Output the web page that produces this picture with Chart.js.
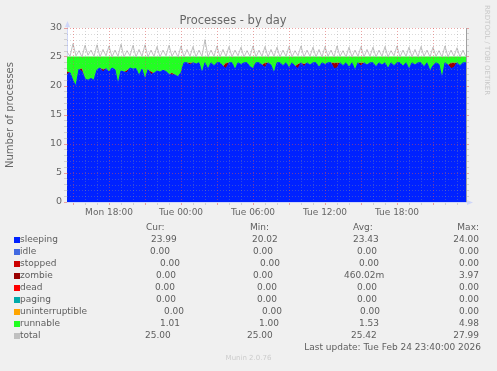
<!DOCTYPE html>
<html>
<head>
<meta charset="utf-8">
<script src="https://cdn.jsdelivr.net/npm/chart.js@4"></script>
<style>
  body { margin: 0; background: #f0f0f0; font-family: "DejaVu Sans", sans-serif; }
  #wrap { position: relative; width: 497px; height: 371px; overflow: hidden; }
  #chart { position: absolute; left: 0; top: 0; }
  .t { position: absolute; font-size: 9px; line-height: 11px; color: #5e5e5e; white-space: pre; }
  .sw { position: absolute; width: 6px; height: 6px; }
  #credit { position: absolute; left: 483px; top: 5px; font-size: 7px; line-height: 8px; color: #c8c8c8; writing-mode: vertical-rl; }
  #version { position: absolute; left: 0; width: 497px; top: 353px; text-align: center; font-size: 7px; line-height: 10px; color: #cccccc; }
</style>
</head>
<body>
<div id="wrap">
  <canvas id="chart" width="497" height="371"></canvas>
  <div id="credit">RRDTOOL / TOBI OETIKER</div>
  <div id="legend"></div>
  <div id="version">Munin 2.0.76</div>
</div>
<script>
// samples every 15 minutes, first one Mon 14:30 (hours counted from Mon 00:00)
const startHour = 14.5;
const stepHours = 0.25;

const sleeping = [
  22.0, 22.3, 20.9, 20.02, 22.9, 22.5, 21.2, 21.0, 21.3, 21.0,
  22.8, 23.1, 22.4, 23.0, 22.4, 23.1, 22.8, 20.3, 22.6, 22.4,
  22.3, 23.1, 22.9, 23.0, 21.8, 22.9, 21.1, 22.8, 22.0, 22.2,
  22.6, 22.4, 22.7, 22.5, 22.0, 21.9, 21.9, 21.6, 22.3, 24.0,
  24.0, 23.6, 24.0, 23.8, 24.0, 22.2, 24.0, 22.9, 24.0, 23.5,
  24.0, 24.0, 23.4, 23.0, 24.0, 24.0, 22.8, 24.0, 23.7, 24.0,
  24.0, 23.3, 23.0, 24.0, 24.0, 23.6, 23.2, 24.0, 23.6, 22.2,
  24.0, 24.0, 23.5, 24.0, 23.1, 24.0, 23.4, 23.0, 24.0, 23.3,
  24.0, 23.6, 24.0, 24.0, 23.2, 24.0, 23.7, 24.0, 24.0, 23.0,
  23.1, 24.0, 23.5, 24.0, 23.2, 24.0, 22.7, 24.0, 23.4, 24.0,
  23.6, 24.0, 24.0, 23.3, 24.0, 23.6, 24.0, 23.0, 24.0, 23.5,
  24.0, 24.0, 23.4, 24.0, 22.9, 24.0, 23.6, 24.0, 24.0, 23.3,
  24.0, 22.6, 23.5, 24.0, 23.7, 21.3, 24.0, 23.6, 23.0, 23.2,
  24.0, 23.5, 24.0, 23.99
];

const zombie = [
  0.5, 0, 0, 0, 0, 0.5, 0, 0, 0, 0,
  0, 0, 0.5, 0, 0, 0, 0, 0, 0, 0,
  0.4, 0, 0, 0, 0, 0, 0, 0, 0.5, 0,
  0, 0, 0, 0, 0, 0.4, 0, 0, 0, 0,
  0, 0.4, 0, 0, 0, 0, 0, 0, 0, 0,
  0, 0, 0, 1.0, 0, 0, 0, 0, 0, 0,
  0, 0, 0, 0, 0, 0, 0.8, 0, 0, 0,
  0, 0, 0, 0, 0, 0, 0, 0.8, 0, 0.5,
  0, 0, 0, 0, 0, 0, 0, 0, 0, 1.0,
  0.9, 0, 0, 0, 0, 0, 0, 0, 0.6, 0,
  0, 0, 0, 0, 0, 0, 0, 0, 0, 0,
  0, 0, 0, 0, 0, 0, 0, 0, 0, 0,
  0, 0, 0, 0, 0, 0, 0, 0, 1.0, 0.8,
  0, 0, 0, 0
];

const runnable = [
  2.5, 2.7, 4.1, 4.98, 2.1, 2.0, 3.8, 4.0, 3.7, 4.0,
  2.2, 1.9, 2.1, 2.0, 2.6, 1.9, 2.2, 4.7, 2.4, 2.6,
  2.3, 1.9, 2.1, 2.0, 3.2, 2.1, 3.9, 2.2, 2.5, 2.8,
  2.4, 2.6, 2.3, 2.5, 3.0, 2.7, 3.1, 3.4, 2.7, 1.0,
  1.0, 1.0, 1.0, 1.2, 1.0, 2.8, 1.0, 2.1, 1.0, 1.5,
  1.0, 1.0, 1.6, 1.0, 1.0, 1.0, 2.2, 1.0, 1.3, 1.0,
  1.0, 1.7, 2.0, 1.0, 1.0, 1.4, 1.0, 1.0, 1.4, 2.8,
  1.0, 1.0, 1.5, 1.0, 1.9, 1.0, 1.6, 1.2, 1.0, 1.2,
  1.0, 1.4, 1.0, 1.0, 1.8, 1.0, 1.3, 1.0, 1.0, 1.0,
  1.0, 1.0, 1.5, 1.0, 1.8, 1.0, 2.3, 1.0, 1.0, 1.0,
  1.4, 1.0, 1.0, 1.7, 1.0, 1.4, 1.0, 2.0, 1.0, 1.5,
  1.0, 1.0, 1.6, 1.0, 2.1, 1.0, 1.4, 1.0, 1.0, 1.7,
  1.0, 2.4, 1.5, 1.0, 1.3, 3.7, 1.0, 1.4, 1.0, 1.0,
  1.0, 1.5, 1.0, 1.01
];

const total = [
  25.9, 25.1, 27.3, 25.2, 26.1, 25.0, 27.0, 25.3, 26.2, 25.1,
  27.1, 25.0, 26.3, 25.2, 26.9, 25.0, 26.2, 25.1, 27.2, 25.0,
  26.1, 25.2, 27.0, 25.0, 26.3, 25.1, 27.1, 25.0, 26.2, 25.1,
  26.8, 25.0, 26.2, 25.2, 27.0, 25.1, 26.1, 25.0, 26.9, 25.0,
  26.3, 25.1, 26.8, 25.0, 26.2, 25.1, 27.99, 25.0, 26.2, 25.1,
  26.9, 25.0, 26.3, 25.1, 26.8, 25.0, 26.2, 25.2, 26.7, 25.0,
  26.1, 25.1, 26.9, 25.0, 26.2, 25.1, 26.8, 25.0, 26.3, 25.1,
  26.7, 25.0, 26.2, 25.1, 26.8, 25.0, 26.1, 25.2, 26.9, 25.0,
  26.2, 25.1, 26.7, 25.0, 26.3, 25.0, 26.8, 25.1, 26.2, 25.0,
  26.9, 25.1, 26.1, 25.0, 26.7, 25.0, 26.2, 25.1, 26.8, 25.0,
  26.3, 25.1, 26.7, 25.0, 26.2, 25.1, 26.8, 25.0, 26.1, 25.2,
  26.9, 25.0, 26.2, 25.1, 26.7, 25.0, 26.3, 25.0, 26.8, 25.1,
  26.2, 25.0, 26.7, 25.1, 26.1, 25.0, 26.9, 25.0, 26.2, 25.1,
  26.6, 25.0, 26.2, 25.0
];

// legend table
const seriesNames = ["sleeping", "idle", "stopped", "zombie", "dead", "paging", "uninterruptible", "runnable", "total"];
const seriesColors = ["#0022ff", "#4169e1", "#cc0000", "#990000", "#ff0000", "#00aaaa", "#ffa500", "#22ff22", "#c0c0c0"];
const curValues = ["23.99", "0.00", "0.00", "0.00", "0.00", "0.00", "0.00", "1.01", "25.00"];
const minValues = ["20.02", "0.00", "0.00", "0.00", "0.00", "0.00", "0.00", "1.00", "25.00"];
const avgValues = ["23.43", "0.00", "0.00", "460.02m", "0.00", "0.00", "0.00", "1.53", "25.42"];
const maxValues = ["24.00", "0.00", "0.00", "3.97", "0.00", "0.00", "0.00", "4.98", "27.99"];
const lastUpdate = "Last update: Tue Feb 24 23:40:00 2026";

const dayNames = ["Mon", "Tue", "Wed"];

const points = (arr) => arr.map((v, i) => ({ x: startHour + i * stepHours, y: v }));

const fontColor = "#666666";
const axisColor = "#cfd6f8";
const majorGrid = "rgba(222, 80, 80, 0.5)";
const minorGrid = "rgba(150, 150, 150, 0.35)";

// background + white plot area
const backdrop = {
  id: "backdrop",
  beforeDraw(chart) {
    const { ctx, chartArea: a } = chart;
    ctx.save();
    ctx.fillStyle = "#f0f0f0";
    ctx.fillRect(0, 0, chart.width, chart.height);
    ctx.fillStyle = "#ffffff";
    ctx.fillRect(a.left, a.top, a.right - a.left, a.bottom - a.top);
    ctx.restore();
  },
};

// rrdtool draws its dotted grid on top of the areas
const gridOverlay = {
  id: "gridOverlay",
  afterDatasetsDraw(chart) {
    const { ctx, chartArea: a, scales } = chart;
    ctx.save();
    ctx.lineWidth = 1;
    ctx.setLineDash([1, 2]);
    scales.y.ticks.forEach((t) => {
      if (t.value === 0) return;
      const y = Math.round(scales.y.getPixelForValue(t.value)) + 0.5;
      ctx.strokeStyle = t.value % 5 === 0 ? majorGrid : minorGrid;
      ctx.beginPath();
      ctx.moveTo(a.left, y);
      ctx.lineTo(a.right, y);
      ctx.stroke();
    });
    scales.x.ticks.forEach((t) => {
      const x = Math.round(scales.x.getPixelForValue(t.value)) + 0.5;
      ctx.strokeStyle = t.value % 3 === 0 ? majorGrid : minorGrid;
      ctx.beginPath();
      ctx.moveTo(x, a.top);
      ctx.lineTo(x, a.bottom);
      ctx.stroke();
    });
    ctx.restore();
  },
};

// little arrow heads at the ends of the axes
const arrows = {
  id: "arrows",
  afterDraw(chart) {
    const { ctx, chartArea: a } = chart;
    const x = Math.round(a.left) + 0.5;
    const y = Math.round(a.bottom) + 0.5;
    ctx.save();
    ctx.strokeStyle = axisColor;
    ctx.fillStyle = axisColor;
    ctx.beginPath();
    ctx.moveTo(x, a.top);
    ctx.lineTo(x, a.top - 2);
    ctx.moveTo(a.right, y);
    ctx.lineTo(a.right + 2, y);
    ctx.stroke();
    ctx.beginPath();
    ctx.moveTo(x, a.top - 7);
    ctx.lineTo(x - 2.5, a.top - 1);
    ctx.lineTo(x + 2.5, a.top - 1);
    ctx.closePath();
    ctx.fill();
    ctx.beginPath();
    ctx.moveTo(a.right + 7, y);
    ctx.lineTo(a.right + 1, y - 2.5);
    ctx.lineTo(a.right + 1, y + 2.5);
    ctx.closePath();
    ctx.fill();
    ctx.restore();
  },
};

const tickFont = { family: "DejaVu Sans", size: 9 };

new Chart(document.getElementById("chart"), {
  type: "line",
  data: {
    datasets: [
      { label: "total", data: points(total), borderColor: "#c0c0c0", borderWidth: 1, fill: false, stack: "total", order: 0 },
      { label: "sleeping", data: points(sleeping), borderColor: "#0022ff", backgroundColor: "#0022ff", borderWidth: 1, fill: "origin", stack: "procs", order: 1 },
      { label: "zombie", data: points(zombie), borderColor: "rgba(0,0,0,0)", backgroundColor: "#990000", borderWidth: 1, fill: "-1", stack: "procs", order: 2 },
      { label: "runnable", data: points(runnable), borderColor: "#22ff22", backgroundColor: "#22ff22", borderWidth: 1, fill: "-1", stack: "procs", order: 3 },
    ],
  },
  options: {
    responsive: false,
    animation: false,
    devicePixelRatio: 1,
    layout: { padding: { left: 0, right: 31, top: 0, bottom: 149 } },
    elements: { point: { radius: 0 }, line: { tension: 0 } },
    plugins: {
      legend: { display: false },
      tooltip: { enabled: false },
      title: {
        display: true,
        text: "Processes - by day",
        color: fontColor,
        font: { family: "DejaVu Sans", size: 11.5, weight: "normal" },
        padding: { top: 14, bottom: 0.2 },
      },
    },
    scales: {
      x: {
        type: "linear",
        min: startHour,
        max: 47.75,
        afterFit: (s) => { s.height = 20; },
        ticks: {
          stepSize: 1,
          autoSkip: false,
          maxRotation: 0,
          includeBounds: false,
          padding: 2,
          color: fontColor,
          font: tickFont,
          callback: (v) => {
            if (v % 6 !== 0) return "";
            const hh = String(v % 24).padStart(2, "0");
            return dayNames[Math.floor(v / 24)] + " " + hh + ":00";
          },
        },
        grid: {
          drawOnChartArea: false,
          tickLength: 3,
          color: (c) => (c.tick && c.tick.value % 3 === 0 ? majorGrid : minorGrid),
        },
        border: { color: axisColor },
      },
      y: {
        stacked: true,
        min: 0,
        max: 30,
        afterFit: (s) => { s.width = 67; },
        ticks: {
          stepSize: 1,
          autoSkip: false,
          padding: 2,
          color: fontColor,
          font: { family: "DejaVu Sans", size: 9.5 },
          callback: (v) => (v % 5 === 0 ? v : ""),
        },
        grid: {
          drawOnChartArea: false,
          tickLength: 3,
          color: (c) => (c.tick && c.tick.value % 5 === 0 ? majorGrid : minorGrid),
        },
        border: { color: axisColor },
        title: {
          display: true,
          text: "Number of processes",
          color: fontColor,
          font: { family: "DejaVu Sans", size: 10 },
          padding: { top: 4, bottom: 0 },
        },
      },
      y2: {
        position: "right",
        min: 0,
        max: 30,
        afterFit: (s) => { s.width = 0; },
        ticks: { display: false, stepSize: 1, autoSkip: false },
        grid: {
          drawOnChartArea: false,
          tickLength: 3,
          color: (c) => (c.tick && c.tick.value % 5 === 0 ? majorGrid : minorGrid),
        },
        border: { color: "#a0a0a0" },
      },
    },
  },
  plugins: [backdrop, gridOverlay, arrows],
});

// legend below the graph, laid out like munin/rrdtool does it
const legend = document.getElementById("legend");
const rowTop = 239.5;
const rowStep = 12;
const curLeft = [151, 150, 160, 156, 155, 156, 164, 160, 145];
const minLeft = [252, 253, 260, 253, 257, 257, 262, 259, 247];
const avgLeft = [353, 357, 359, 344, 357, 357, 360, 359, 351];
const maxRight = 479;

function addText(txt, x, cy, alignRight) {
  const d = document.createElement("div");
  d.className = "t";
  d.textContent = txt;
  d.style.top = cy - 5.5 + "px";
  if (alignRight) d.style.right = 497 - x + "px";
  else d.style.left = x + "px";
  legend.appendChild(d);
}

addText("Cur:", 146, rowTop - rowStep);
addText("Min:", 250, rowTop - rowStep);
addText("Avg:", 353, rowTop - rowStep);
addText("Max:", maxRight, rowTop - rowStep, true);

seriesNames.forEach((name, i) => {
  const cy = rowTop + i * rowStep;
  const sw = document.createElement("div");
  sw.className = "sw";
  sw.style.left = "14px";
  sw.style.top = cy - 3 + "px";
  sw.style.background = seriesColors[i];
  legend.appendChild(sw);
  addText(name, 20, cy);
  addText(curValues[i], curLeft[i], cy);
  addText(minValues[i], minLeft[i], cy);
  addText(avgValues[i], avgLeft[i], cy);
  addText(maxValues[i], maxRight, cy, true);
});

addText(lastUpdate, 481, rowTop + seriesNames.length * rowStep, true);
</script>
</body>
</html>
